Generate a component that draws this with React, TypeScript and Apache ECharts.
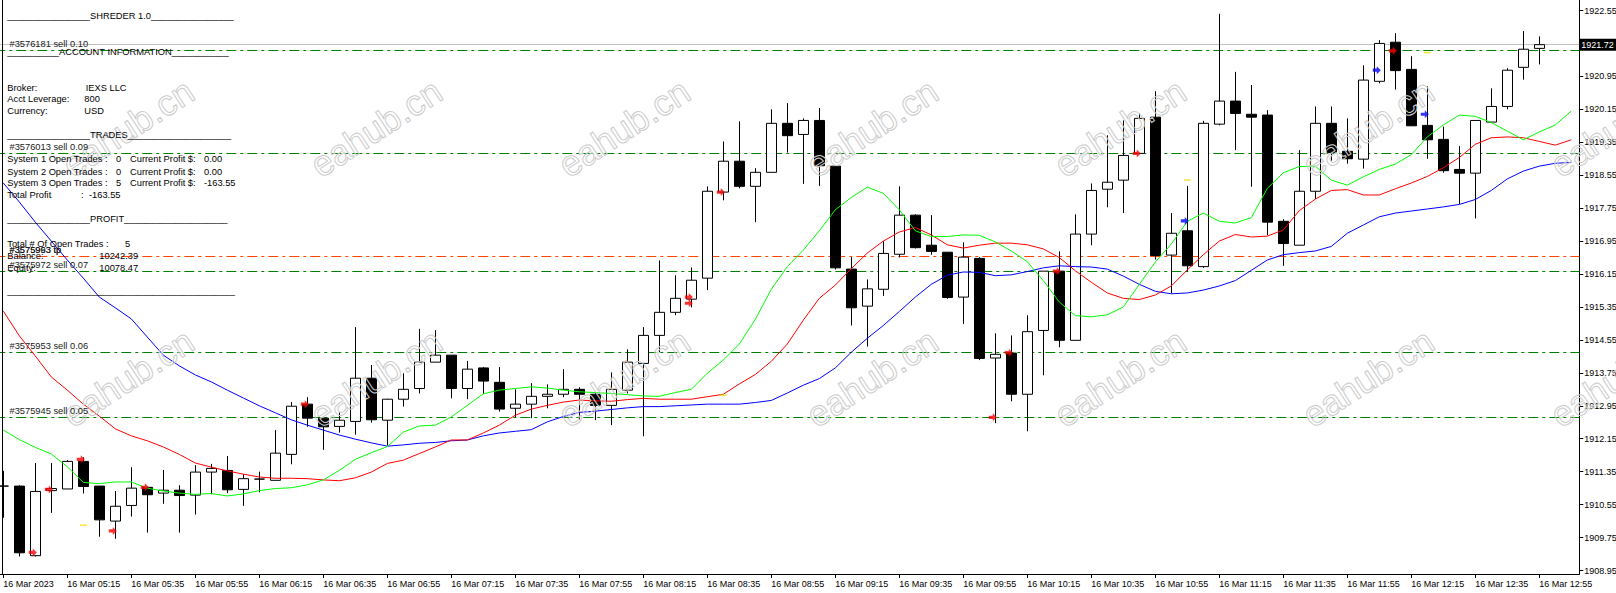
import React, { useEffect, useRef } from "react";
import * as echarts from "echarts";

const FONT = '"Liberation Sans", Arial, sans-serif';

const tickLabels = [
  "16 Mar 2023", "16 Mar 05:15", "16 Mar 05:35", "16 Mar 05:55", "16 Mar 06:15",
  "16 Mar 06:35", "16 Mar 06:55", "16 Mar 07:15", "16 Mar 07:35", "16 Mar 07:55",
  "16 Mar 08:15", "16 Mar 08:35", "16 Mar 08:55", "16 Mar 09:15", "16 Mar 09:35",
  "16 Mar 09:55", "16 Mar 10:15", "16 Mar 10:35", "16 Mar 10:55", "16 Mar 11:15",
  "16 Mar 11:35", "16 Mar 11:55", "16 Mar 12:15", "16 Mar 12:35", "16 Mar 12:55",
];

const priceTicks = [
  1908.95, 1909.75, 1910.55, 1911.35, 1912.15, 1912.95, 1913.75, 1914.55, 1915.35,
  1916.15, 1916.95, 1917.75, 1918.55, 1919.35, 1920.15, 1920.95, 1921.75, 1922.55,
];
const priceLabels = priceTicks.filter((v) => v !== 1921.75);

const opens = [
  1911.00, 1911.00, 1909.31, 1910.89, 1910.93, 1911.60, 1911.00, 1910.15, 1910.53, 1910.97,
  1910.83, 1910.90, 1910.78, 1911.34, 1911.38, 1910.92, 1911.17, 1911.14, 1911.77, 1912.99,
  1912.65, 1912.45, 1912.57, 1913.62, 1912.60, 1913.11, 1913.37, 1914.01, 1914.18, 1913.37,
  1913.87, 1913.52, 1912.89, 1912.99, 1913.18, 1913.23, 1913.35, 1913.23, 1912.96, 1913.33,
  1913.98, 1914.66, 1915.22, 1915.54, 1916.05, 1918.14, 1918.89, 1918.28, 1918.62, 1919.81,
  1919.54, 1919.88, 1918.77, 1916.27, 1915.37, 1915.78, 1916.63, 1917.58, 1916.85, 1916.68,
  1915.59, 1916.53, 1914.11, 1914.23, 1913.23, 1914.78, 1916.22, 1914.54, 1917.12, 1918.21,
  1918.43, 1919.08, 1919.96, 1916.61, 1917.20, 1916.33, 1919.79, 1920.35, 1920.03, 1920.01,
  1917.43, 1916.85, 1918.16, 1919.81, 1919.13, 1918.94, 1920.83, 1921.78, 1921.12, 1919.76,
  1919.42, 1918.69, 1918.60, 1919.84, 1920.22, 1921.17, 1921.63,
];
const highs = [
  1911.37, 1911.02, 1911.56, 1911.56, 1911.63, 1911.70, 1911.00, 1910.88, 1911.46, 1910.98,
  1911.39, 1911.02, 1911.51, 1911.54, 1911.73, 1911.29, 1911.35, 1912.36, 1913.04, 1913.16,
  1912.65, 1912.79, 1914.86, 1913.94, 1913.12, 1913.74, 1914.82, 1914.79, 1914.18, 1914.04,
  1913.89, 1913.89, 1913.35, 1913.50, 1913.47, 1913.84, 1913.40, 1913.28, 1913.76, 1914.32,
  1914.86, 1916.48, 1916.12, 1916.31, 1918.28, 1919.37, 1919.86, 1918.72, 1920.15, 1920.30,
  1919.93, 1920.18, 1918.77, 1916.56, 1916.02, 1916.95, 1918.28, 1917.60, 1917.58, 1916.68,
  1916.92, 1916.56, 1914.71, 1914.66, 1915.15, 1916.22, 1916.70, 1917.60, 1918.35, 1919.52,
  1919.88, 1920.05, 1920.59, 1917.63, 1918.29, 1919.87, 1922.47, 1921.06, 1920.74, 1920.13,
  1917.48, 1919.16, 1920.22, 1920.22, 1919.93, 1921.22, 1921.83, 1922.00, 1921.44, 1920.71,
  1919.73, 1919.26, 1919.88, 1920.66, 1921.15, 1922.05, 1921.92,
];
const lows = [
  1910.23, 1909.29, 1909.29, 1910.35, 1910.93, 1910.82, 1909.77, 1909.72, 1910.26, 1909.87,
  1910.57, 1909.87, 1910.31, 1910.80, 1910.83, 1910.52, 1910.85, 1911.14, 1911.53, 1912.44,
  1911.88, 1912.30, 1912.25, 1912.54, 1911.99, 1912.93, 1913.25, 1914.01, 1913.13, 1913.11,
  1913.24, 1912.81, 1912.67, 1912.65, 1912.89, 1913.16, 1912.62, 1912.60, 1912.48, 1913.25,
  1912.21, 1914.25, 1915.15, 1915.34, 1915.76, 1917.94, 1918.23, 1917.41, 1918.62, 1919.10,
  1918.34, 1918.29, 1916.26, 1914.90, 1914.39, 1915.62, 1916.55, 1916.77, 1916.62, 1915.55,
  1914.94, 1914.06, 1912.53, 1913.06, 1912.33, 1913.69, 1914.37, 1914.54, 1916.85, 1917.77,
  1917.63, 1919.08, 1916.50, 1915.68, 1916.21, 1916.30, 1919.76, 1919.16, 1918.27, 1917.09,
  1916.35, 1916.85, 1917.97, 1918.90, 1918.83, 1918.71, 1920.78, 1920.63, 1919.75, 1918.95,
  1918.61, 1917.85, 1917.50, 1919.84, 1920.15, 1920.87, 1921.24,
];
const closes = [
  1911.00, 1909.38, 1910.87, 1910.94, 1911.60, 1910.99, 1910.18, 1910.51, 1910.95, 1910.79,
  1910.90, 1910.77, 1911.34, 1911.43, 1910.91, 1911.18, 1911.17, 1911.80, 1912.94, 1912.65,
  1912.44, 1912.60, 1913.62, 1912.61, 1913.11, 1913.35, 1914.01, 1914.18, 1913.37, 1913.84,
  1913.55, 1912.87, 1912.99, 1913.18, 1913.23, 1913.35, 1913.23, 1912.96, 1913.35, 1914.01,
  1914.66, 1915.22, 1915.56, 1916.00, 1918.16, 1918.89, 1918.28, 1918.62, 1919.81, 1919.51,
  1919.88, 1918.78, 1916.30, 1915.33, 1915.79, 1916.65, 1917.58, 1916.79, 1916.70, 1915.58,
  1916.56, 1914.10, 1914.20, 1913.23, 1914.75, 1916.22, 1914.54, 1917.12, 1918.18, 1918.38,
  1919.03, 1919.93, 1916.60, 1917.14, 1916.35, 1919.81, 1920.35, 1920.05, 1919.96, 1917.41,
  1916.89, 1918.16, 1919.81, 1919.10, 1918.95, 1920.86, 1921.75, 1921.09, 1919.75, 1919.41,
  1918.66, 1918.60, 1919.88, 1920.22, 1921.10, 1921.61, 1921.72,
];

// moving averages (shifted 2 bars forward, so 99 points)
const maBlue = [
  1918.36, 1917.90, 1917.41, 1916.95, 1916.49, 1916.05, 1915.59, 1915.33, 1915.06, 1914.62,
  1914.18, 1913.92, 1913.70, 1913.53, 1913.33, 1913.14, 1912.95, 1912.78, 1912.61, 1912.48,
  1912.36, 1912.24, 1912.14, 1912.05, 1911.97, 1912.00, 1912.04, 1912.06, 1912.10, 1912.12,
  1912.22, 1912.29, 1912.33, 1912.37, 1912.56, 1912.69, 1912.79, 1912.82, 1912.86, 1912.90,
  1912.93, 1912.93, 1912.95, 1912.97, 1912.99, 1912.99, 1912.99, 1913.03, 1913.08, 1913.26,
  1913.45, 1913.61, 1913.87, 1914.25, 1914.59, 1914.90, 1915.24, 1915.59, 1915.90, 1916.12,
  1916.20, 1916.19, 1916.11, 1916.13, 1916.21, 1916.30, 1916.35, 1916.33, 1916.32, 1916.27,
  1916.10, 1915.90, 1915.73, 1915.67, 1915.69, 1915.76, 1915.86, 1915.99, 1916.24, 1916.49,
  1916.62, 1916.67, 1916.71, 1916.82, 1917.14, 1917.34, 1917.54, 1917.63, 1917.68, 1917.73,
  1917.78, 1917.84, 1917.96, 1918.18, 1918.46, 1918.65, 1918.77, 1918.84, 1918.86,
];
const maRed = [
  1915.25, 1914.65, 1914.16, 1913.65, 1913.33, 1912.99, 1912.70, 1912.39, 1912.22, 1912.10,
  1911.95, 1911.77, 1911.56, 1911.46, 1911.37, 1911.29, 1911.22, 1911.19, 1911.19, 1911.18,
  1911.15, 1911.13, 1911.20, 1911.34, 1911.55, 1911.63, 1911.79, 1911.95, 1912.12, 1912.12,
  1912.29, 1912.48, 1912.72, 1912.87, 1912.96, 1913.04, 1913.09, 1913.07, 1913.06, 1913.10,
  1913.13, 1913.11, 1913.11, 1913.11, 1913.17, 1913.23, 1913.48, 1913.71, 1914.03, 1914.45,
  1915.03, 1915.56, 1915.88, 1916.28, 1916.66, 1916.95, 1917.17, 1917.28, 1917.10, 1916.86,
  1916.78, 1916.85, 1916.90, 1916.90, 1916.86, 1916.76, 1916.55, 1916.23, 1915.95, 1915.69,
  1915.56, 1915.53, 1915.64, 1915.86, 1916.25, 1916.62, 1916.95, 1917.11, 1917.05, 1917.07,
  1917.22, 1917.69, 1917.97, 1918.18, 1918.20, 1918.07, 1918.07, 1918.22, 1918.36, 1918.52,
  1918.73, 1918.98, 1919.30, 1919.46, 1919.48, 1919.46, 1919.37, 1919.28, 1919.41,
];
const maGreen = [
  1912.36, 1912.13, 1911.94, 1911.78, 1911.47, 1911.09, 1911.06, 1911.10, 1911.10, 1910.95,
  1910.88, 1910.83, 1910.80, 1910.82, 1910.76, 1910.81, 1910.89, 1910.94, 1910.96, 1911.03,
  1911.15, 1911.38, 1911.65, 1911.81, 1911.96, 1912.31, 1912.46, 1912.48, 1912.68, 1912.96,
  1913.24, 1913.33, 1913.37, 1913.41, 1913.38, 1913.33, 1913.29, 1913.27, 1913.25, 1913.22,
  1913.19, 1913.18, 1913.27, 1913.35, 1913.74, 1914.06, 1914.45, 1915.05, 1915.78, 1916.33,
  1916.73, 1917.20, 1917.71, 1918.01, 1918.26, 1918.11, 1917.71, 1917.20, 1917.06, 1917.06,
  1917.10, 1917.09, 1916.93, 1916.71, 1916.45, 1915.99, 1915.47, 1915.14, 1915.11, 1915.16,
  1915.35, 1915.90, 1916.44, 1916.88, 1917.43, 1917.63, 1917.43, 1917.39, 1917.52, 1918.23,
  1918.61, 1918.76, 1918.77, 1918.43, 1918.31, 1918.51, 1918.69, 1918.82, 1919.05, 1919.48,
  1919.77, 1920.01, 1919.98, 1919.83, 1919.62, 1919.41, 1919.60, 1919.77, 1920.11,
];

const bidPrice = 1921.72;
const levelPrices = [1921.58, 1919.08, 1916.57, 1916.21, 1914.25, 1912.67];
const levelKinds = ["sell", "sell", "tp", "sell", "sell", "sell"];
const levelLabels = [
  ["#3576181 sell 0.10"],
  ["#3576013 sell 0.09"],
  ["#3575963 tp", "#3575993 tp"],
  ["#3575972 sell 0.07"],
  ["#3575953 sell 0.06"],
  ["#3575945 sell 0.05"],
];

const redArrowBars = [2, 3, 5, 7, 9, 19, 43, 43, 45, 62, 63, 66, 71, 87];
const redArrowPrices = [1909.39, 1910.92, 1911.65, 1909.91, 1910.97, 1912.99, 1915.59, 1915.44, 1918.14, 1912.67, 1914.24, 1916.22, 1919.08, 1921.57];
const blueArrowBars = [74, 86, 89];
const blueArrowPrices = [1917.44, 1921.10, 1920.03];
const yellowBars = [5, 45, 74, 89];
const yellowPrices = [1910.05, 1913.21, 1918.43, 1921.53];

const watermark = "eahub.cn";

const U = (n: number) => "_".repeat(n);
const panelRows: [number, number, string][] = [
  [7.3, 15.7, U(16) + "SHREDER 1.0" + U(16)],
  [7.3, 51.7, U(10) + "ACCOUNT INFORMATION" + U(11)],
  [7.3, 87.7, "Broker:"], [85.7, 87.7, "IEXS LLC"],
  [7.3, 99.3, "Acct Leverage:"], [84.3, 99.3, "800"],
  [7.3, 111, "Currency:"], [84.3, 111, "USD"],
  [7.3, 135, U(16) + "TRADES" + U(20)],
  [7.3, 159.3, "System 1 Open Trades :"], [116, 159.3, "0"], [130, 159.3, "Current Profit $:"], [204, 159.3, "0.00"],
  [7.3, 171.7, "System 2 Open Trades :"], [116, 171.7, "0"], [130, 171.7, "Current Profit $:"], [204, 171.7, "0.00"],
  [7.3, 183.3, "System 3 Open Trades :"], [116, 183.3, "5"], [130, 183.3, "Current Profit $:"], [204, 183.3, "-163.55"],
  [7.3, 195.3, "Total Profit"], [81, 195.3, ":"], [89, 195.3, "-163.55"],
  [7.3, 219.3, U(16) + "PROFIT" + U(20)],
  [7.3, 244, "Total # Of Open Trades :"], [125, 244, "5"],
  [7.3, 256, "Balance:"], [99.3, 256, "10242.39"],
  [7.3, 268.3, "Equity:"], [99.3, 268.3, "10078.47"],
  [7.3, 290.7, U(44)],
];

const barTimes = Array.from({ length: 99 }, (_, i) => {
  const m = 4 * 60 + 55 + 5 * i;
  return String(Math.floor(m / 60)).padStart(2, "0") + ":" + String(m % 60).padStart(2, "0");
});

const ARROW = "path://M0,3L5,3L5,0L10,5L5,10L5,7L0,7Z";

export default function App() {
  const ref = useRef<HTMLDivElement>(null);
  useEffect(() => {
    if (!ref.current) return;
    const chart = echarts.init(ref.current, undefined, { renderer: "svg" });
    const candleData = opens.map((o, i) => [o, closes[i], lows[i], highs[i]]);
    const maLine = (data: number[], color: string) => ({
      type: "line", data, showSymbol: false, symbol: "none", silent: true, z: 3,
      lineStyle: { color, width: 1 }, emphasis: { disabled: true },
    });
    const option: any = {
      animation: false,
      backgroundColor: "#ffffff",
      grid: { left: -4.7, top: 0, width: 1584, height: 574, containLabel: false, outerBoundsMode: "none" },
      xAxis: {
        type: "category", data: barTimes, boundaryGap: true,
        axisLine: { show: true, lineStyle: { color: "#000", width: 1 } },
        axisTick: { show: true, interval: 3, alignWithLabel: true, length: 4, lineStyle: { color: "#000" } },
        axisLabel: {
          show: true, interval: 3, align: "left", margin: 5, color: "#000", fontSize: 9, fontFamily: FONT,
          formatter: (_v: string, i: number) => (i % 4 === 0 ? tickLabels[i / 4] ?? "" : ""),
        },
        splitLine: { show: false },
      },
      yAxis: {
        type: "value", position: "right", min: 1908.865, max: 1922.805,
        axisLine: { show: true, lineStyle: { color: "#000", width: 1 } },
        axisTick: { show: true, length: 4, customValues: priceTicks, lineStyle: { color: "#000" } },
        axisLabel: {
          show: true, customValues: priceLabels, margin: 5, color: "#000", fontSize: 9, fontFamily: FONT,
          formatter: (v: number) => v.toFixed(2),
        },
        splitLine: { show: false },
      },
      series: [
        {
          type: "candlestick", data: candleData, barWidth: 10, z: 2, silent: true,
          itemStyle: { color: "#ffffff", color0: "#000000", borderColor: "#000000", borderColor0: "#000000", borderColorDoji: "#000000", borderWidth: 1 },
          emphasis: { disabled: true },
          markLine: {
            z: 1, silent: true, symbol: ["none", "none"], animation: false,
            emphasis: { disabled: true },
            label: { show: false },
            data: [
              {
                yAxis: bidPrice,
                lineStyle: { color: "#C0C0C0", type: "solid", width: 1 },
                label: {
                  show: true, position: "end", formatter: bidPrice.toFixed(2), color: "#fff",
                  backgroundColor: "#000", padding: [2, 3, 1, 2], fontSize: 9, fontFamily: FONT, distance: 0,
                },
              },
              ...levelPrices.map((p, i) => ({
                yAxis: p,
                lineStyle: { color: levelKinds[i] === "tp" ? "#FF4500" : "#008000", type: [10, 4, 3, 4], width: 1 },
              })),
            ],
          },
        },
        maLine(maBlue, "#0000FF"),
        maLine(maRed, "#FF0000"),
        maLine(maGreen, "#00FF00"),
        {
          type: "scatter", z: 4, silent: true, symbol: ARROW, symbolSize: [8, 8], symbolOffset: [-2.5, 0],
          itemStyle: { color: "#FF0000" },
          data: redArrowBars.map((b, i) => [b, redArrowPrices[i]]),
        },
        {
          type: "scatter", z: 4, silent: true, symbol: ARROW, symbolSize: [8, 8], symbolOffset: [-2.5, 0],
          itemStyle: { color: "#0000FF" },
          data: blueArrowBars.map((b, i) => [b, blueArrowPrices[i]]),
        },
        {
          type: "scatter", z: 4, silent: true, symbol: "rect", symbolSize: [7, 1.5],
          itemStyle: { color: "#F0E000" },
          data: yellowBars.map((b, i) => [b, yellowPrices[i]]),
        },
      ],
    };
    chart.setOption(option);

    const elements: any[] = [];
    // left frame
    elements.push({
      type: "line", silent: true, z: 50,
      shape: { x1: 2.5, y1: 0, x2: 2.5, y2: 574 },
      style: { stroke: "#000", lineWidth: 1 },
    });
    // watermarks
    for (let row = 0; row < 2; row++) {
      for (let k = 0; k < 7; k++) {
        elements.push({
          type: "text", silent: true, z: 60,
          x: 128 + 248 * k, y: 128 + 250 * row, rotation: (33 * Math.PI) / 180,
          style: {
            text: watermark, font: `36px ${FONT}`, fill: "none", stroke: "#CCCCCC", lineWidth: 1,
            align: "center", verticalAlign: "middle",
          },
        });
      }
    }
    // trade level labels
    levelPrices.forEach((p, i) => {
      const y = chart.convertToPixel({ yAxisIndex: 0 }, p) as number;
      levelLabels[i].forEach((t) => {
        elements.push({
          type: "text", silent: true, z: 70, x: 9.5, y: y - 6.5,
          style: { text: t, font: `9.3px ${FONT}`, fill: "#1a1a1a", align: "left", verticalAlign: "middle" },
        });
      });
    });
    // info panel
    panelRows.forEach(([x, y, t]) => {
      elements.push({
        type: "text", silent: true, z: 80, x, y,
        style: { text: t, font: `9.3px ${FONT}`, fill: "#000", align: "left", verticalAlign: "middle" },
      });
    });
    chart.setOption({ graphic: { elements } });

    return () => chart.dispose();
  }, []);

  return (
    <div
      ref={ref}
      style={{ position: "absolute", left: 0, top: 0, width: 1616, height: 593, background: "#fff" }}
    />
  );
}
